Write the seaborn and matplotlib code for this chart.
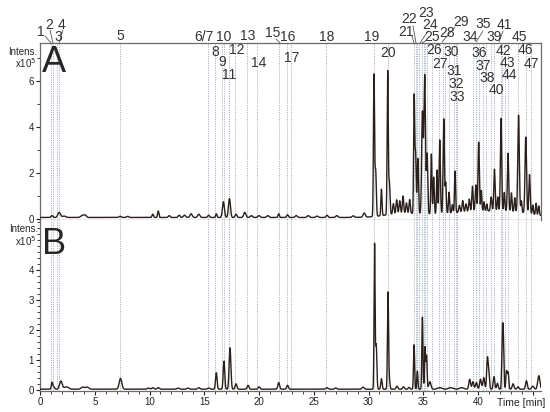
import numpy as np
import pandas as pd
import matplotlib
matplotlib.use("Agg")
import matplotlib.pyplot as plt
import seaborn as sns
from matplotlib.ticker import MultipleLocator
from matplotlib.lines import Line2D

# ---------------- data ----------------
# retention times (min) of the marked compounds (dotted guide lines)
marker_times = [1.04, 1.19, 1.55, 1.74, 7.28, 15.34, 16.02, 16.62, 16.78, 17.26,
                17.79, 18.94, 19.82, 21.80, 22.56, 22.90, 26.16, 30.50, 31.78,
                34.16, 34.31, 34.43, 34.61, 34.86, 35.04, 35.16, 35.38, 35.84,
                36.41, 36.80, 36.99, 37.35, 37.81, 37.96, 38.12, 39.54, 39.79,
                40.06, 40.46, 40.77, 41.16, 41.46, 42.07, 42.23, 42.50, 42.74,
                43.65, 44.36, 44.88]

label_texts = ["1", "2", "3", "4", "5", "6/7", "8", "9", "10", "11", "12", "13",
               "14", "15", "16", "17", "18", "19", "20", "21", "22", "23", "24",
               "25", "26", "27", "28", "29", "30", "31", "32", "33", "34", "35",
               "36", "37", "38", "39", "40", "41", "42", "43", "44", "45", "46", "47"]

# chromatogram A: peak apex times (min), heights (x10^5) and widths (min)
A_times = [1.10, 1.75, 2.20, 3.90, 4.15, 7.30, 8.00, 10.30, 10.80, 11.80, 12.70,
           13.20, 13.80, 14.50, 15.40, 16.10, 16.75, 17.30, 17.90, 18.70, 19.30,
           20.00, 20.80, 21.80, 22.60, 23.40, 24.50, 25.30, 26.20, 27.10, 28.60,
           29.60,
           30.50, 30.65, 31.18, 31.75, 31.90, 32.27, 32.57, 32.85, 33.15, 33.46,
           33.76, 34.17, 34.30, 34.50, 34.92, 35.13, 35.35, 35.74, 35.95, 36.26,
           36.50, 36.87, 37.05, 37.35, 37.66, 37.90, 38.30, 38.60, 38.90, 39.20,
           39.49, 39.80, 40.06, 40.30, 40.55, 40.80, 41.20, 41.50, 41.80, 42.10,
           42.40, 42.74, 43.05, 43.35, 43.70, 43.96, 44.36, 44.70, 45.00, 45.30,
           45.55,
           33.00, 39.00, 43.00]
A_heights = [0.08, 0.22, 0.06, 0.10, 0.08, 0.05, 0.05, 0.14, 0.28, 0.08, 0.10,
             0.10, 0.16, 0.14, 0.10, 0.16, 0.68, 0.82, 0.14, 0.22, 0.08,
             0.08, 0.08, 0.16, 0.12, 0.08, 0.08, 0.06, 0.10, 0.08, 0.07,
             0.18,
             6.10, 2.00, 1.15, 6.20, 1.40, 0.45, 0.60, 0.55, 0.75, 0.45,
             0.60, 5.10, 2.50, 2.40, 4.40, 6.00, 2.60, 2.60, 1.60, 1.90,
             3.20, 4.10, 1.30, 0.90, 0.35, 1.80, 0.30, 0.50, 0.35, 0.55,
             1.10, 1.15, 3.00, 0.90, 0.40, 0.30, 0.60, 1.80, 0.60, 4.00,
             0.80, 2.50, 0.80, 0.60, 4.20, 0.50, 3.30, 1.70, 0.40, 0.50,
             0.40,
             0.15, 0.22, 0.18]
A_widths = [0.08, 0.12, 0.15, 0.15, 0.10, 0.10, 0.10, 0.07, 0.06, 0.08, 0.08,
            0.10, 0.10, 0.10, 0.08, 0.06, 0.09, 0.09, 0.08, 0.10, 0.10,
            0.10, 0.10, 0.06, 0.08, 0.10, 0.10, 0.10, 0.08, 0.10, 0.10,
            0.10,
            0.05, 0.06, 0.05, 0.05, 0.06, 0.06, 0.06, 0.06, 0.06, 0.06,
            0.06, 0.05, 0.05, 0.06, 0.07, 0.07, 0.06, 0.05, 0.05, 0.05,
            0.06, 0.06, 0.05, 0.05, 0.05, 0.05, 0.06, 0.06, 0.06, 0.06,
            0.06, 0.06, 0.06, 0.05, 0.05, 0.05, 0.06, 0.06, 0.05, 0.06,
            0.05, 0.06, 0.05, 0.05, 0.07, 0.05, 0.07, 0.06, 0.05, 0.05,
            0.05,
            1.50, 3.00, 2.00]

# chromatogram B
B_times = [1.10, 1.25, 1.90, 2.40, 3.90, 4.30, 7.35, 9.90, 10.30, 10.80, 12.60,
           13.50, 14.50, 15.40, 16.10, 16.80, 17.35, 17.90, 19.00, 20.00, 21.80,
           22.60, 26.20, 27.00, 29.50,
           30.55, 30.70, 31.18, 31.78, 31.90, 32.60, 33.20, 33.70, 34.16, 34.46,
           34.92, 35.16, 35.30, 35.60, 36.50, 37.50, 38.50, 39.24, 39.54, 39.85,
           40.22, 40.52, 40.86, 41.00, 41.46, 41.77, 42.23, 42.32, 42.60, 42.75,
           43.20, 43.65, 44.42, 45.00, 45.55]
B_heights = [0.22, 0.08, 0.27, 0.08, 0.07, 0.07, 0.36, 0.04, 0.05, 0.05, 0.04,
             0.04, 0.05, 0.04, 0.55, 0.93, 1.38, 0.18, 0.13, 0.08, 0.22,
             0.13, 0.05, 0.04, 0.07,
             4.80, 1.50, 0.35, 3.20, 0.30, 0.10, 0.08, 0.06, 1.48, 0.60,
             2.40, 1.40, 1.10, 0.25, 0.05, 0.05, 0.05, 0.33, 0.25, 0.22,
             0.33, 0.38, 1.05, 0.45, 0.42, 0.20, 1.85, 1.20, 0.60, 0.55,
             0.18, 0.08, 0.28, 0.10, 0.45]
B_widths = [0.06, 0.08, 0.12, 0.20, 0.15, 0.15, 0.12, 0.10, 0.10, 0.10, 0.10,
            0.10, 0.10, 0.10, 0.07, 0.07, 0.08, 0.08, 0.08, 0.08, 0.08,
            0.08, 0.10, 0.10, 0.10,
            0.045, 0.06, 0.06, 0.05, 0.06, 0.08, 0.08, 0.08, 0.05, 0.05,
            0.05, 0.05, 0.05, 0.10, 0.20, 0.20, 0.20, 0.08, 0.08, 0.08,
            0.08, 0.08, 0.07, 0.06, 0.07, 0.07, 0.06, 0.05, 0.06, 0.06,
            0.08, 0.08, 0.08, 0.10, 0.10]

baseline_A = 0.06
baseline_B = 0.04

# ---------------- layout (pixel positions of peak labels) ----------------
label_xy = [(41, 32), (49, 25), (58, 37), (62, 25), (120, 36), (204, 37),
            (215, 52), (222, 62), (224, 37), (229, 75), (237, 50), (248, 36),
            (259, 63), (273, 33), (288, 37), (292, 58), (327, 37), (372, 37),
            (388, 53), (406, 32), (409, 19), (426, 13), (430, 25), (432, 37),
            (434, 50), (440, 64), (447, 33), (461, 22), (451, 52), (454, 71),
            (456, 84), (457, 97), (470, 37), (483, 24), (479, 53), (483, 66),
            (487, 78), (494, 37), (496, 90), (504, 25), (503, 51), (507, 63),
            (509, 75), (519, 37), (525, 50), (531, 64)]
leaders = [((45, 36), (51, 43)), ((50, 30), (53, 43)), ((63, 30), (59, 43)),
           ((276, 39), (280, 43)), ((412, 36), (414, 43)),
           ((413, 26), (416, 43)), ((428, 31), (420, 43)),
           ((427, 40), (422, 43)), ((442, 42), (455, 27)),
           ((476, 42), (483, 31)), ((499, 42), (503, 31))]

W, H = 550, 412
sns.set_style("ticks")
plt.rcParams['font.family'] = ['Liberation Sans', 'DejaVu Sans']

t = np.arange(0.0, 45.8, 0.004)


def trace(times, heights, widths, base):
    y = np.full_like(t, base)
    for t0, h, w in zip(times, heights, widths):
        y += h * np.exp(-0.5 * ((t - t0) / w) ** 2)
    return y


df = pd.DataFrame({"Time": t,
                   "A": trace(A_times, A_heights, A_widths, baseline_A),
                   "B": trace(B_times, B_heights, B_widths, baseline_B)})

fig = plt.figure(figsize=(W / 100, H / 100), dpi=100)
left, right = 40 / W, 541 / W
axA = fig.add_axes([left, 1 - 220 / H, right - left, (220 - 43) / H])
axB = fig.add_axes([left, 1 - 391 / H, right - left, (391 - 220) / H])

line_col = "#2a1f1a"
guide_col = "#aab5c4"
spine_col = "#6b6b6b"

for ax, col, ylim in ((axA, "A", (-0.05, 7.63)), (axB, "B", (-0.02, 5.68))):
    for mt in marker_times:
        ax.axvline(mt, color=guide_col, lw=0.7, ls=(0, (1.2, 1.2)), zorder=1)
    sns.lineplot(data=df, x="Time", y=col, ax=ax, color=line_col, lw=1.0,
                 estimator=None, errorbar=None, zorder=3)
    ax.set_xlim(0, 45.75)
    ax.set_ylim(*ylim)
    ax.set_xlabel("")
    ax.set_ylabel("")
    for s in ax.spines.values():
        s.set_color(spine_col)
        s.set_linewidth(0.9)
    ax.tick_params(axis="both", which="major", length=3, width=0.8,
                   colors="#222222", labelsize=7, pad=1.5)
    ax.tick_params(axis="both", which="minor", length=2, width=0.6,
                   colors="#222222")

# panel A axes
axA.yaxis.set_minor_locator(MultipleLocator(1))
axA.set_yticks([0, 2, 4, 6])
axA.set_xticks([])
axA.tick_params(axis="x", which="both", bottom=False, labelbottom=False)

# panel B axes
axB.set_yticks([0, 1, 2, 3, 4])
axB.yaxis.set_minor_locator(MultipleLocator(0.2))
axB.set_xticks([0, 5, 10, 15, 20, 25, 30, 35, 40, 45])
axB.set_xticklabels(["0", "5", "10", "15", "20", "25", "30", "35", "40", ""])
axB.xaxis.set_minor_locator(MultipleLocator(1))
axB.spines["right"].set_visible(False)
axB.spines["top"].set_visible(False)


def px(x, y):
    return x / W, 1 - y / H


# axis titles
fig.text(*px(37, 52), "Intens.", fontsize=7, ha="right", va="center")
fig.text(*px(37, 63), "x10$^{5}$", fontsize=7, ha="right", va="center")
fig.text(*px(38, 229), "Intens.", fontsize=7, ha="right", va="center")
fig.text(*px(37, 241), "x10$^{5}$", fontsize=7, ha="right", va="center")
fig.text(*px(521, 403), "Time [min]", fontsize=7.5, ha="center", va="center")

# panel letters
fig.text(*px(54, 62), "A", fontsize=26, ha="center", va="center")
fig.text(*px(54, 245), "B", fontsize=26, ha="center", va="center")

# peak labels
for txt, (x, y) in zip(label_texts, label_xy):
    fig.text(*px(x, y), txt, fontsize=10, ha="center", va="center",
             color="#333333")
for (x0, y0), (x1, y1) in leaders:
    fig.add_artist(Line2D([x0 / W, x1 / W], [1 - y0 / H, 1 - y1 / H],
                          transform=fig.transFigure, color="#555555", lw=0.6))

fig.savefig("out.png", dpi=100)
